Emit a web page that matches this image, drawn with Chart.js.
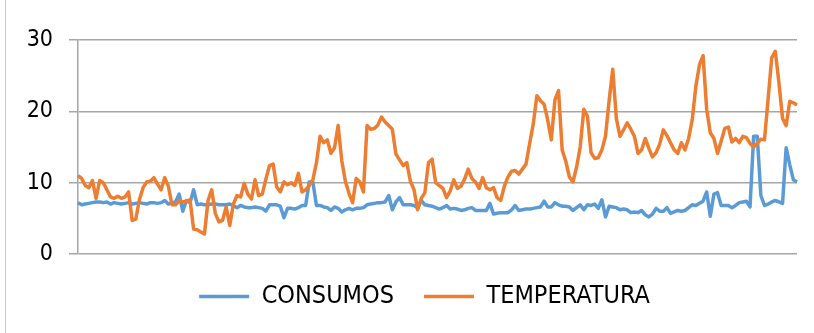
<!DOCTYPE html>
<html>
<head>
<meta charset="utf-8">
<script src="https://cdn.jsdelivr.net/npm/chart.js@4.4.1/dist/chart.umd.min.js"></script>
<style>
  html, body { margin: 0; padding: 0; background: #ffffff; }
  #wrap { position: relative; width: 814px; height: 333px; }
  canvas { display: block; }
</style>
</head>
<body>
<div id="wrap"><canvas id="grafico" width="814" height="333"></canvas></div>
<script>
// Consumo diario y temperatura media
const consumos = [
  7.2, 6.9, 7.0, 7.1, 7.2, 7.3, 7.3, 7.2, 7.3, 7.0,
  7.2, 7.1, 7.0, 7.1, 7.2, 7.0, 7.1, 7.2, 7.1, 7.0,
  7.2, 7.2, 7.1, 7.2, 7.5, 7.0, 7.2, 7.3, 8.4, 6.0,
  7.5, 7.2, 9.0, 6.9, 7.0, 6.9, 6.9, 7.0, 7.0, 6.9,
  6.9, 6.9, 7.0, 6.8, 6.5, 6.8, 6.6, 6.5, 6.5, 6.6,
  6.5, 6.4, 6.0, 6.9, 6.9, 6.9, 6.7, 5.1, 6.4, 6.4,
  6.3, 6.5, 6.8, 6.8, 10.1, 10.1, 6.8, 6.8, 6.6, 6.5,
  6.1, 6.6, 6.4, 5.9, 6.2, 6.4, 6.2, 6.4, 6.4, 6.5,
  6.9, 7.0, 7.1, 7.2, 7.2, 7.3, 8.2, 6.2, 7.3, 7.9,
  6.9, 6.9, 6.9, 6.8, 6.5, 7.5, 6.9, 6.8, 6.7, 6.5,
  6.3, 6.5, 6.8, 6.3, 6.4, 6.3, 6.1, 6.2, 6.4, 6.5,
  6.1, 6.1, 6.1, 6.1, 7.1, 5.6, 5.7, 5.8, 5.8, 5.8,
  6.2, 6.8, 6.1, 6.2, 6.3, 6.3, 6.4, 6.5, 6.6, 7.4,
  6.6, 6.6, 7.2, 6.9, 6.7, 6.7, 6.6, 6.1, 6.5, 6.9,
  6.2, 6.9, 6.8, 7.0, 6.4, 7.6, 5.2, 6.7, 6.6, 6.5,
  6.2, 6.3, 6.2, 5.8, 5.9, 5.8, 6.1, 5.5, 5.2, 5.6,
  6.4, 6.0, 6.0, 6.5, 5.7, 5.9, 6.1, 6.0, 6.1, 6.5,
  6.9, 6.8, 7.1, 7.4, 8.7, 5.3, 8.4, 8.6, 6.8, 6.8,
  6.8, 6.5, 6.8, 7.2, 7.3, 7.4, 6.6, 16.5, 16.5, 8.2,
  6.8, 7.0, 7.3, 7.5, 7.3, 7.1, 14.9, 12.5, 10.4, 10.1
];

const temperatura = [
  11.0, 10.6, 9.6, 9.3, 10.3, 7.8, 10.3, 10.0, 9.0, 8.0,
  7.8, 8.1, 7.8, 8.0, 8.7, 4.7, 4.9, 7.6, 9.3, 10.1,
  10.2, 10.7, 9.8, 9.0, 10.7, 9.5, 6.9, 6.9, 7.5, 7.3,
  7.4, 7.6, 3.5, 3.4, 3.1, 2.8, 7.5, 9.0, 5.7, 4.5,
  4.7, 6.6, 4.0, 7.0, 8.2, 8.0, 9.9, 8.4, 7.7, 10.4,
  8.2, 8.4, 10.5, 12.4, 12.6, 9.4, 8.7, 10.1, 9.7, 10.0,
  9.6, 11.3, 8.7, 9.0, 9.6, 10.4, 12.8, 16.5, 15.6, 16.0,
  14.1, 14.9, 18.0, 13.1, 10.2, 8.5, 7.2, 10.6, 10.1, 8.7,
  18.0, 17.5, 17.6, 18.1, 19.2, 18.5, 18.0, 17.5, 14.0, 13.2,
  12.4, 12.8, 10.2, 9.0, 6.2, 7.8, 8.6, 12.8, 13.3, 10.0,
  9.6, 9.2, 7.9, 8.8, 10.4, 9.2, 9.5, 10.5, 11.9, 10.6,
  10.1, 9.2, 10.7, 9.3, 9.0, 9.3, 7.9, 7.5, 9.5, 10.8,
  11.6, 11.7, 11.2, 11.9, 12.6, 15.5, 18.2, 22.2, 21.5, 21.0,
  18.8, 16.0, 21.6, 22.9, 14.6, 13.0, 10.8, 10.1, 12.2, 15.0,
  20.3, 19.3, 14.2, 13.4, 13.5, 14.6, 16.5, 21.5, 25.9, 19.0,
  16.5, 17.4, 18.4, 17.5, 16.5, 14.1, 14.6, 16.2, 14.8, 13.6,
  14.2, 15.4, 17.4, 16.6, 15.6, 14.6, 14.1, 15.6, 14.6, 16.2,
  18.8, 23.5, 26.5, 27.8, 20.3, 17.0, 16.2, 14.1, 15.8, 17.6,
  17.8, 15.7, 16.2, 15.6, 16.5, 16.3, 15.5, 15.0, 15.5, 16.1,
  16.0, 21.7, 27.5, 28.4, 24.0, 19.0, 18.0, 21.4, 21.2, 20.9
];

// Una etiqueta por día (el eje de categorías no las muestra)
const dias = consumos.map((_, i) => String(i + 1));

const yTicks = [0, 10, 20, 30];
const series = ['CONSUMOS', 'TEMPERATURA'];
const colores = ['#5B9BD5', '#ED7D31'];

const FUENTE = "'DejaVu Sans Condensed', 'Liberation Sans', sans-serif";
const GRIS = '#a6a6a6';

// Línea del borde izquierdo del área del gráfico
const marco = {
  id: 'marco',
  afterDraw(chart) {
    const c = chart.ctx;
    c.save();
    c.strokeStyle = '#c8c8c8';
    c.lineWidth = 1;
    c.beginPath();
    c.moveTo(5.5, 0);
    c.lineTo(5.5, chart.height);
    c.stroke();
    c.restore();
  }
};

// La leyenda se centra un poco a la derecha del centro del lienzo
const leyendaDesplazada = {
  id: 'leyendaDesplazada',
  afterLayout(chart) {
    const l = chart.legend;
    if (l) { l.left += 16; l.right += 16; }
  }
};

new Chart(document.getElementById('grafico'), {
  type: 'line',
  data: {
    labels: dias,
    datasets: [
      {
        label: series[0],
        data: consumos,
        borderColor: colores[0],
        backgroundColor: colores[0],
        borderWidth: 3.5,
        pointRadius: 0,
        tension: 0,
        borderJoinStyle: 'round',
        order: 1
      },
      {
        label: series[1],
        data: temperatura,
        borderColor: colores[1],
        backgroundColor: colores[1],
        borderWidth: 3.5,
        pointRadius: 0,
        tension: 0,
        borderJoinStyle: 'round',
        order: 0
      }
    ]
  },
  options: {
    responsive: false,
    animation: false,
    devicePixelRatio: 1,
    layout: { padding: { left: 20, right: 17, top: 40, bottom: 14 } },
    scales: {
      x: {
        ticks: { display: false },
        grid: { display: false, drawTicks: false },
        border: { display: false }
      },
      y: {
        min: 0,
        max: 30,
        afterBuildTicks(scale) { scale.ticks = yTicks.map(v => ({ value: v })); },
        afterFit(scale) { scale.width = 58; },
        ticks: {
          color: '#000000',
          padding: 16,
          font: { family: FUENTE, size: 23 }
        },
        grid: { color: GRIS, lineWidth: 1.5, tickLength: 9 },
        border: { color: GRIS, width: 1.5 }
      }
    },
    plugins: {
      legend: {
        position: 'bottom',
        labels: {
          usePointStyle: true,
          pointStyle: 'line',
          pointStyleWidth: 50,
          padding: 30,
          color: '#000000',
          font: { family: FUENTE, size: 25 },
          sort: (a, b) => a.datasetIndex - b.datasetIndex
        }
      },
      tooltip: { enabled: false }
    }
  },
  plugins: [marco, leyendaDesplazada]
});
</script>
</body>
</html>
